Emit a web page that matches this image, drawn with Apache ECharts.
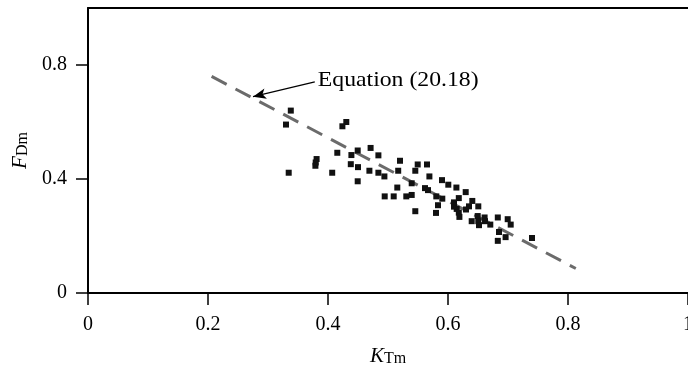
<!DOCTYPE html>
<html><head><meta charset="utf-8">
<script src="https://cdn.jsdelivr.net/npm/echarts@6/dist/echarts.min.js"></script>
<style>html,body{margin:0;padding:0;background:#fff}#c{width:688px;height:366px}</style>
</head><body><div id="c"></div>
<script>
// Measured points (K_Tm, F_Dm)
const kTm = [0.338,0.330,0.4305,0.424,0.4155,0.439,0.4495,0.471,0.484,0.520,0.381,0.3795,0.379,0.438,0.450,0.469,0.484,0.517,0.5495,0.565,0.5455,0.3345,0.407,0.4495,
  0.494,0.5395,0.569,0.590,0.6005,0.614,0.5155,0.5617,0.5667,0.4945,0.5095,0.5305,0.5395,0.5805,0.5905,0.5833,0.610,0.610,0.618,0.6145,0.618,0.619,0.5455,0.580,
  0.6295,0.6405,0.635,0.6505,0.630,0.6395,0.6495,0.661,0.6505,0.6517,0.6617,0.6705,0.683,0.6995,0.7045,0.685,0.696,0.683,0.740];
const fDm = [0.640,0.591,0.600,0.585,0.492,0.484,0.500,0.509,0.483,0.464,0.470,0.458,0.4465,0.452,0.4416,0.429,0.422,0.429,0.451,0.451,0.429,0.422,0.422,0.392,
  0.409,0.385,0.409,0.396,0.380,0.370,0.370,0.368,0.361,0.339,0.339,0.339,0.344,0.339,0.331,0.308,0.318,0.303,0.333,0.295,0.282,0.267,0.287,0.281,
  0.354,0.323,0.304,0.304,0.293,0.252,0.270,0.265,0.252,0.238,0.252,0.240,0.265,0.259,0.240,0.214,0.196,0.183,0.193];
// Equation (20.18) line
const eqX = [0.206, 0.813];
const eqY = [0.760, 0.086];
// ticks
const xTicks = [0, 0.2, 0.4, 0.6, 0.8, 1];
const yTicks = [0, 0.4, 0.8];
// annotation
const eqLabel = 'Equation (20.18)';
const arrowFrom = [0.378, 0.741];
const arrowTo = [0.275, 0.689];
const eqLabelAt = [0.383, 0.745];

const FONT = "'Liberation Serif', 'Times New Roman', serif";
const chart = echarts.init(document.getElementById('c'), null, {renderer: 'canvas'});
const pts = kTm.map((x, i) => [x, fDm[i]]);
const line = eqX.map((x, i) => [x, eqY[i]]);

chart.setOption({
  animation: false,
  backgroundColor: '#fff',
  grid: {left: 88, top: 8, width: 600, height: 285, containLabel: false, outerBoundsMode: 'none'},
  xAxis: [{
    type: 'value', min: 0, max: 1, interval: 0.2,
    axisLine: {show: true, onZero: false, lineStyle: {color: '#000', width: 2}},
    axisTick: {show: true, inside: false, length: 12, customValues: xTicks, lineStyle: {color: '#000', width: 1.5}},
    axisLabel: {show: true, margin: 22, color: '#000', fontFamily: FONT, fontSize: 20, customValues: xTicks},
    splitLine: {show: false},
    name: '{i|K}{s|Tm}', nameLocation: 'middle', nameGap: 52,
    nameTextStyle: {rich: {
      i: {fontFamily: FONT, fontStyle: 'italic', fontSize: 21, lineHeight: 22, color: '#000'},
      s: {fontFamily: FONT, fontSize: 16, lineHeight: 6, verticalAlign: 'bottom', color: '#000'}
    }}
  }, {
    type: 'value', min: 0, max: 1, position: 'top',
    axisLine: {show: true, onZero: false, lineStyle: {color: '#000', width: 2}},
    axisTick: {show: false}, axisLabel: {show: false}, splitLine: {show: false}
  }],
  yAxis: {
    type: 'value', min: 0, max: 1, interval: 0.4,
    axisLine: {show: true, onZero: false, lineStyle: {color: '#000', width: 2}},
    axisTick: {show: true, inside: false, length: 12, customValues: yTicks, lineStyle: {color: '#000', width: 1.5}},
    axisLabel: {show: true, margin: 21, color: '#000', fontFamily: FONT, fontSize: 20, customValues: yTicks},
    splitLine: {show: false},
    name: '{i|F}{s|Dm}', nameLocation: 'middle', nameGap: 56, nameRotate: 90,
    nameTextStyle: {rich: {
      i: {fontFamily: FONT, fontStyle: 'italic', fontSize: 21, lineHeight: 22, color: '#000'},
      s: {fontFamily: FONT, fontSize: 16, lineHeight: 6, verticalAlign: 'bottom', color: '#000'}
    }}
  },
  series: [{
    type: 'line', data: line, symbol: 'none', silent: true,
    lineStyle: {color: '#6b6b6b', width: 3, type: [17, 10]},
    markLine: {
      silent: true, symbol: ['none', 'arrow'], symbolSize: [8, 13],
      label: {show: false},
      lineStyle: {color: '#000', width: 1.3, type: 'solid'},
      data: [[{coord: arrowFrom}, {coord: arrowTo}]]
    },
    z: 2
  }, {
    type: 'scatter', data: pts, symbol: 'rect', symbolSize: 6,
    itemStyle: {color: '#111', opacity: 1}, z: 3
  }]
});

const p = chart.convertToPixel({gridIndex: 0}, eqLabelAt);
chart.setOption({graphic: [{
  type: 'text', x: p[0], y: p[1], scaleX: 1.13, silent: true,
  style: {text: eqLabel, fontFamily: FONT, fontSize: 21, fill: '#000', textVerticalAlign: 'middle', verticalAlign: 'middle', align: 'left'}
}]});
</script></body></html>
